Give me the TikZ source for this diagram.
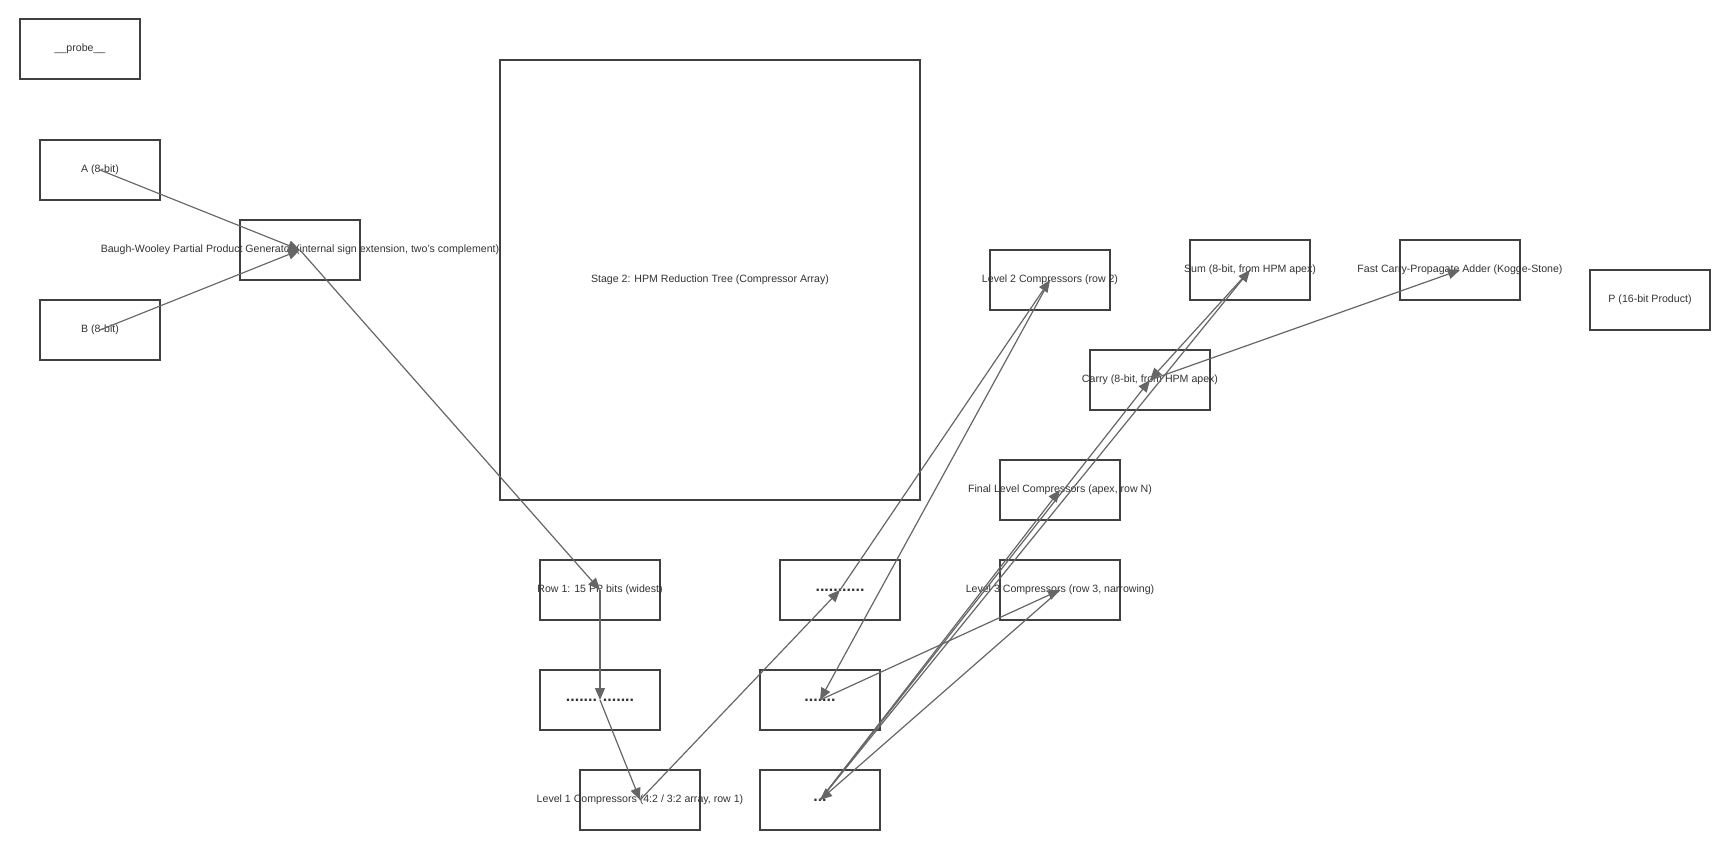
\documentclass[tikz,border=0pt]{standalone}
\usepackage{fontspec}
\setmainfont{Liberation Sans}
\usetikzlibrary{arrows.meta}
\begin{document}
\begin{tikzpicture}[x=0.5pt,y=-0.5pt,
        font=\fontsize{5.3}{6}\selectfont, text=black!80,
        box/.style={draw=black!75, line width=0.9pt, minimum width=60pt,
            minimum height=30pt, inner sep=0pt},
        flow/.style={draw=black!60, line width=0.6pt,
            -{Triangle[length=6pt,width=5pt]}},
        dots/.style={font=\fontsize{8}{8}\selectfont\bfseries}]

        % page frame
        \useasboundingbox (0,0) rectangle (1730,850);

        % inputs and generator
        \node (probe) [box] at (80,49) {};
        \node at (probe) {\_\_probe\_\_};
        \node (A) [box] at (100,170) {};
        \node at (A) {A (8-bit)};
        \node (B) [box] at (100,330) {};
        \node at (B) {B (8-bit)};
        \node (BW) [box] at (300,250) {};
        \node at (BW) {Baugh-Wooley Partial Product Generator (internal sign extension, two's complement)};

        % reduction tree
        \node (HPM) [box, minimum width=210pt, minimum height=220pt] at (710,280) {};
        \node at (HPM) {Stage 2: HPM Reduction Tree (Compressor Array)};
        \node (R1) [box] at (600,590) {};
        \node at (R1) {Row 1: 15 PP bits (widest)};
        \node (D1) [box] at (840,590) {};
        \node [dots] at (D1) {...........};
        \node (D2) [box] at (600,700) {};
        \node [dots] at (D2) {....... .......};
        \node (D3) [box] at (820,700) {};
        \node [dots] at (D3) {.......};
        \node (L1) [box] at (640,800) {};
        \node at (L1) {Level 1 Compressors (4:2 / 3:2 array, row 1)};
        \node (D4) [box] at (820,800) {};
        \node [dots] at (D4) {...};
        \node (L2) [box] at (1050,280) {};
        \node at (L2) {Level 2 Compressors (row 2)};
        \node (L3) [box] at (1060,590) {};
        \node at (L3) {Level 3 Compressors (row 3, narrowing)};
        \node (LN) [box] at (1060,490) {};
        \node at (LN) {Final Level Compressors (apex, row N)};

        % final addition
        \node (S) [box] at (1250,270) {};
        \node at (S) {Sum (8-bit, from HPM apex)};
        \node (C) [box] at (1150,380) {};
        \node at (C) {Carry (8-bit, from HPM apex)};
        \node (CPA) [box] at (1460,270) {};
        \node at (CPA) {Fast Carry-Propagate Adder (Kogge-Stone)};
        \node (P) [box] at (1650,300) {};
        \node at (P) {P (16-bit Product)};

        \begin{scope}[flow]
            \draw (A.center) -- (BW.center);
            \draw (B.center) -- (BW.center);
            \draw (BW.center) -- (R1.center);
            \draw (R1.center) -- (D2.center);
            \draw (D2.center) -- (L1.center);
            \draw (L1.center) -- (D1.center);
            \draw (D1.center) -- (L2.center);
            \draw (L2.center) -- (D3.center);
            \draw (D3.center) -- (L3.center);
            \draw (L3.center) -- (D4.center);
            \draw (D4.center) -- (LN.center);
            \draw (D4.center) -- (C.center);
            \draw (D4.center) -- (S.center);
            \draw (S.center) -- (C.center);
            \draw (C.center) -- (CPA.center);
        \end{scope}

\end{tikzpicture}
\end{document}
